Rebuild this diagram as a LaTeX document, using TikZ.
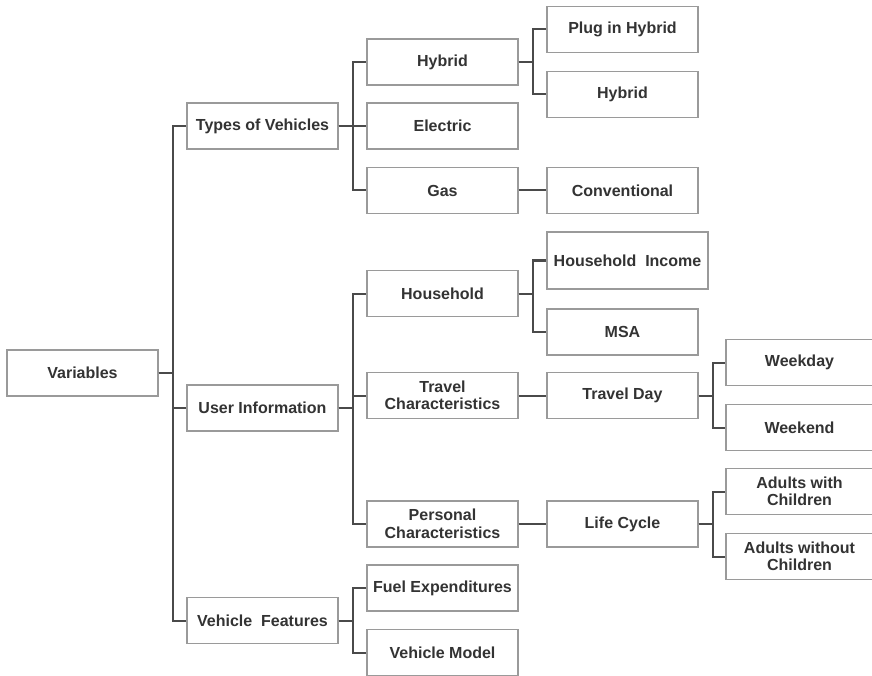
\documentclass[tikz,border=0pt]{standalone}
\usepackage{fontspec}
\setmainfont{Liberation Sans}
\begin{document}
\begin{tikzpicture}[x=1pt,y=-1pt,
  box/.style={draw=boxgray, line width=1.3pt, fill=white, inner sep=0pt,
    minimum width=151pt, minimum height=46pt, align=center, text=textgray,
    font=\fontsize{16}{17.5}\selectfont\bfseries},
  conn/.style={draw=linegray, line width=2pt}]
\definecolor{boxgray}{HTML}{9A9A9A}
\definecolor{linegray}{HTML}{4A4A4A}
\definecolor{textgray}{HTML}{333333}
\useasboundingbox (0,0) rectangle (872,676);

% root and first level
\node[box] (var) at (82.5,373) {Variables};
\node[box] (tov) at (262.5,126) {Types of Vehicles};
\node[box] (ui)  at (262.5,408) {User Information};
\node[box] (vf)  at (262.5,620.5) {Vehicle\ \ Features};

% second level
\node[box] (hyb) at (442.5,62)    {Hybrid};
\node[box] (ele) at (442.5,126)   {Electric};
\node[box] (gas) at (442.5,190.5) {Gas};
\node[box] (hh)  at (442.5,293.5) {Household};
\node[box] (tc)  at (442.5,395.5) {Travel\\Characteristics};
\node[box] (pc)  at (442.5,524)   {Personal\\Characteristics};
\node[box] (fe)  at (442.5,588)   {Fuel Expenditures};
\node[box] (vm)  at (442.5,652.5) {Vehicle Model};

% third level
\node[box] (pih)  at (622.5,29.5)  {Plug in Hybrid};
\node[box] (hyb2) at (622.5,94.5)  {Hybrid};
\node[box] (conv) at (622.5,190.5) {Conventional};
\node[box, minimum width=161pt, minimum height=57pt] (hhi) at (627.5,260.5) {Household\ \ Income};
\node[box] (msa)  at (622.5,332)   {MSA};
\node[box] (td)   at (622.5,395.5) {Travel Day};
\node[box] (lc)   at (622.5,524)   {Life Cycle};

% fourth level
\node[box, minimum width=147pt] (wd)  at (799.5,362.5) {Weekday};
\node[box, minimum width=147pt] (we)  at (799.5,427.5) {Weekend};
\node[box, minimum width=147pt] (awc) at (799.5,491.5) {Adults with\\Children};
\node[box, minimum width=147pt] (awo) at (799.5,556.5) {Adults without\\Children};

% elbow connectors: parent -> trunk -> child
\foreach \p/\c in {var/tov, var/ui, var/vf,
                   tov/hyb, tov/ele, tov/gas,
                   ui/hh, ui/tc, ui/pc,
                   vf/fe, vf/vm,
                   hyb/pih, hyb/hyb2, gas/conv,
                   hh/hhi, hh/msa, tc/td, pc/lc,
                   td/wd, td/we, lc/awc, lc/awo}
  \draw[conn] (\p.east) -- ++(14,0) |- (\c.west);
\end{tikzpicture}
\end{document}
